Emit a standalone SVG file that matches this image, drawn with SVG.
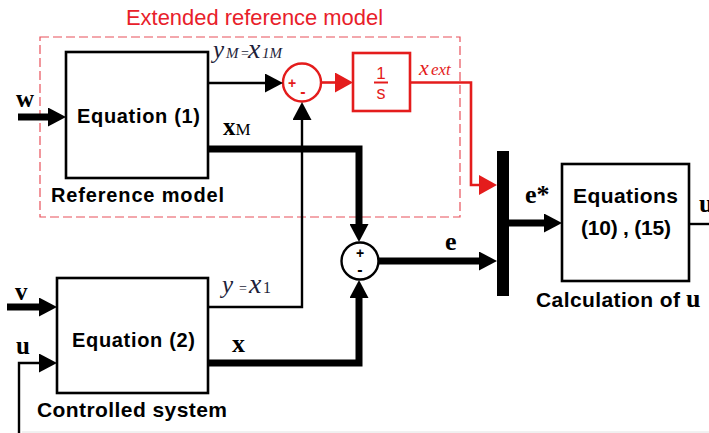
<svg xmlns="http://www.w3.org/2000/svg" width="709" height="433" viewBox="0 0 709 433">
<style>
.box{fill:#fff;stroke:#000;stroke-width:2.6}
.rbox{fill:#fff;stroke:#e41c1c;stroke-width:2.6}
.thin{fill:none;stroke:#000;stroke-width:2.4}
.thick{fill:none;stroke:#000;stroke-width:7}
.red{fill:none;stroke:#e41c1c;stroke-width:2.6}
.lbl{font-family:"Liberation Sans",Arial,sans-serif;font-weight:bold;fill:#000}
.math{font-family:"Liberation Serif","Times New Roman",serif;font-weight:bold;fill:#000}
.ital{font-family:"Liberation Serif","Times New Roman",serif;font-style:italic;fill:#1e1e3a}
.sign{font-family:"Liberation Sans",Arial,sans-serif;font-weight:bold;text-anchor:middle}
</style>
<defs>
<marker id="ab" viewBox="0 0 18 19" markerWidth="18" markerHeight="19" refX="0" refY="9.5" orient="auto" markerUnits="userSpaceOnUse"><path d="M0,0 L18,9.5 L0,19 Z" fill="#000"/></marker>
<marker id="ar" viewBox="0 0 18 20" markerWidth="18" markerHeight="20" refX="0" refY="10" orient="auto" markerUnits="userSpaceOnUse"><path d="M0,0 L18,10 L0,20 Z" fill="#e41c1c"/></marker>
</defs>

<g id="extended-reference-model">
<rect x="40" y="37" width="420" height="180" fill="none" stroke="#e8505a" stroke-width="1.2" stroke-dasharray="9,4"/>
<text x="126" y="25" font-family="Liberation Sans,Arial,sans-serif" font-size="21.5" fill="#e8202a" textLength="257" lengthAdjust="spacingAndGlyphs">Extended reference model</text>
</g>

<g id="reference-model">
<rect class="box" x="66" y="52" width="142" height="126"/>
<text class="lbl" x="77" y="123" font-size="20" textLength="123">Equation (1)</text>
<text class="lbl" x="51" y="202" font-size="20" textLength="173">Reference model</text>
</g>

<g id="sum-top">
<circle cx="302" cy="82.5" r="19" fill="#fff" stroke="#e41c1c" stroke-width="2.4"/>
<text class="sign" x="292" y="88" font-size="14" fill="#e41c1c">+</text>
<text class="sign" x="303" y="97" font-size="16" fill="#e41c1c">-</text>
</g>

<g id="integrator">
<rect class="rbox" x="353" y="53" width="57" height="58"/>
<text x="381" y="79" font-family="Liberation Sans,Arial,sans-serif" font-size="17" fill="#e41c1c" text-anchor="middle">1</text>
<line x1="374" y1="82.5" x2="388" y2="82.5" stroke="#e41c1c" stroke-width="2"/>
<text x="381" y="99" font-family="Liberation Sans,Arial,sans-serif" font-size="18" fill="#e41c1c" text-anchor="middle">s</text>
</g>

<g id="mux">
<rect x="497" y="151" width="12" height="145" fill="#000"/>
</g>

<g id="sum-bottom">
<circle cx="360" cy="261" r="18.5" fill="#fff" stroke="#000" stroke-width="2.4"/>
<text class="sign" x="360" y="258" font-size="14" fill="#000">+</text>
<text class="sign" x="360" y="275" font-size="16" fill="#000">-</text>
</g>

<g id="controller">
<rect class="box" x="562" y="164" width="127" height="117"/>
<text class="lbl" x="573" y="203" font-size="21" textLength="105">Equations</text>
<text class="lbl" x="581" y="235" font-size="21" textLength="90">(10) , (15)</text>
<text class="lbl" x="536" y="307" font-size="21" textLength="144">Calculation of</text>
<text class="math" x="686" y="307" font-size="26">u</text>
</g>

<g id="controlled-system">
<rect class="box" x="57" y="278" width="151" height="115"/>
<text class="lbl" x="72" y="347" font-size="20" textLength="123">Equation (2)</text>
<text class="lbl" x="37" y="417" font-size="21" textLength="190">Controlled system</text>
</g>

<g id="connectors">
<path class="thick" d="M18,117 H48" marker-end="url(#ab)"/>
<path class="thin" d="M208,83 H265" marker-end="url(#ab)"/>
<path class="red" d="M321,82.5 H335" marker-end="url(#ar)"/>
<path class="red" d="M410,82.5 H471 V185 H479" marker-end="url(#ar)"/>
<path class="thick" d="M208,149 H359 V224" marker-end="url(#ab)"/>
<path class="thin" d="M208,307 H302 V120" marker-end="url(#ab)"/>
<path class="thick" d="M208,363 H359 V298" marker-end="url(#ab)"/>
<path class="thick" d="M379,261 H479" marker-end="url(#ab)"/>
<path class="thick" d="M509,223 H544" marker-end="url(#ab)"/>
<path class="thin" d="M689,224 H709"/>
<path class="thick" d="M7,307 H39" marker-end="url(#ab)"/>
<path class="thin" d="M19,433 V363 H39" marker-end="url(#ab)"/>
</g>

<g id="labels">
<text class="math" x="16" y="107" font-size="25">w</text>
<text class="math" x="15" y="300" font-size="25">v</text>
<text class="math" x="16" y="354" font-size="25">u</text>
<text class="math" x="223" y="135" font-size="25">x<tspan font-weight="normal" font-size="17">M</tspan></text>
<text class="math" x="232" y="352" font-size="26">x</text>
<text class="math" x="445" y="250" font-size="26">e</text>
<text class="math" x="525" y="203" font-size="26">e*</text>
<text class="math" x="699" y="212" font-size="26">u</text>
<text class="ital" y="58"><tspan x="213" font-size="25">y</tspan><tspan x="226" font-size="15">M</tspan><tspan x="241" font-size="14" font-style="normal">=</tspan><tspan x="248" font-size="28">x</tspan><tspan x="262" font-size="15">1M</tspan></text>
<text class="ital" y="293"><tspan x="222" font-size="25">y</tspan><tspan x="239" font-size="14" font-style="normal">=</tspan><tspan x="249" font-size="28">x</tspan><tspan x="263" font-size="16" font-style="normal">1</tspan></text>
<text class="ital" y="75" fill="#e41c1c" style="fill:#e41c1c"><tspan x="419" font-size="22">x</tspan><tspan x="431" font-size="17">ext</tspan></text>
</g>
<line x1="22" y1="432" x2="709" y2="432" stroke="#e2e2e2" stroke-width="1"/>
</svg>
